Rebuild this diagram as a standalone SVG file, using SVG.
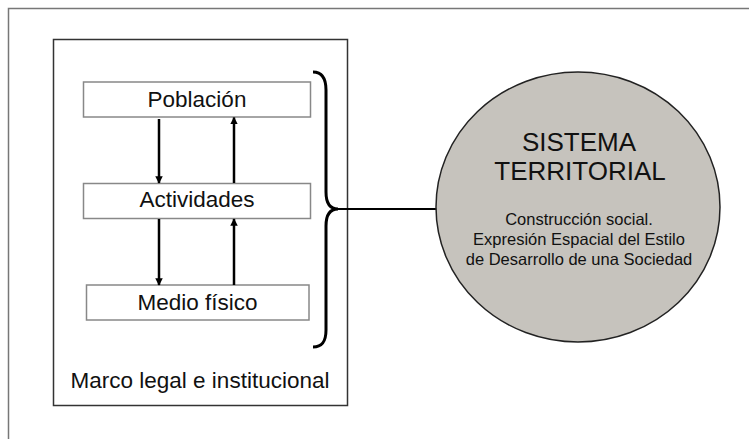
<svg xmlns="http://www.w3.org/2000/svg" width="749" height="439" viewBox="0 0 749 439">
<defs>
<style>
.t{font-family:"Liberation Sans",Arial,sans-serif;fill:#111;text-anchor:middle}
.box{fill:#fff;stroke:#888;stroke-width:1.5}
.arr{stroke:#000;stroke-width:2.5;fill:none}
</style>
<marker id="ah" viewBox="0 0 10 10" refX="9" refY="5" markerWidth="3" markerHeight="3" orient="auto" markerUnits="strokeWidth">
<path d="M0,0 L10,5 L0,10 z" fill="#000"/>
</marker>
</defs>
<rect x="0" y="0" width="749" height="439" fill="#fff"/>
<rect id="frame" x="8.5" y="8.5" width="800" height="500" fill="none" stroke="#777" stroke-width="1.5"/>
<g id="marco">
<rect x="53.5" y="39.5" width="294" height="366" fill="#fff" stroke="#333" stroke-width="1.5"/>
<text class="t" x="200" y="388" font-size="22.5">Marco legal e institucional</text>
</g>
<g id="poblacion">
<rect class="box" x="83.5" y="82" width="227" height="35"/>
<text class="t" x="197" y="107" font-size="22.5">Población</text>
</g>
<g id="actividades">
<rect class="box" x="83.5" y="183.5" width="227" height="35"/>
<text class="t" x="197" y="207" font-size="22.5">Actividades</text>
</g>
<g id="medio">
<rect class="box" x="86.5" y="285" width="222.5" height="35"/>
<text class="t" x="197.5" y="310" font-size="22.5">Medio físico</text>
</g>
<g id="connectors">
<line class="arr" x1="159" y1="119" x2="159" y2="183" marker-end="url(#ah)"/>
<line class="arr" x1="234" y1="183" x2="234" y2="117.5" marker-end="url(#ah)"/>
<line class="arr" x1="159" y1="219" x2="159" y2="285" marker-end="url(#ah)"/>
<line class="arr" x1="234" y1="285" x2="234" y2="219" marker-end="url(#ah)"/>
<path d="M313,72 C322,72 326,78 326,90 L326,192 C326,203 330,209 338,209 C330,209 326,215 326,226 L326,330 C326,342 322,347 313,347" fill="none" stroke="#000" stroke-width="3"/>
<line x1="337" y1="209" x2="437" y2="209" stroke="#000" stroke-width="2"/>
</g>
<g id="sistema">
<ellipse cx="578" cy="207" rx="142" ry="135" fill="#c6c3bd" stroke="#222" stroke-width="1.5"/>
<text class="t" x="579" y="151" font-size="26">SISTEMA</text>
<text class="t" x="580" y="180" font-size="26">TERRITORIAL</text>
<text class="t" x="579" y="225" font-size="16.5">Construcción social.</text>
<text class="t" x="579" y="245" font-size="16.5">Expresión Espacial del Estilo</text>
<text class="t" x="579" y="265" font-size="16.5">de Desarrollo de una Sociedad</text>
</g>
</svg>
